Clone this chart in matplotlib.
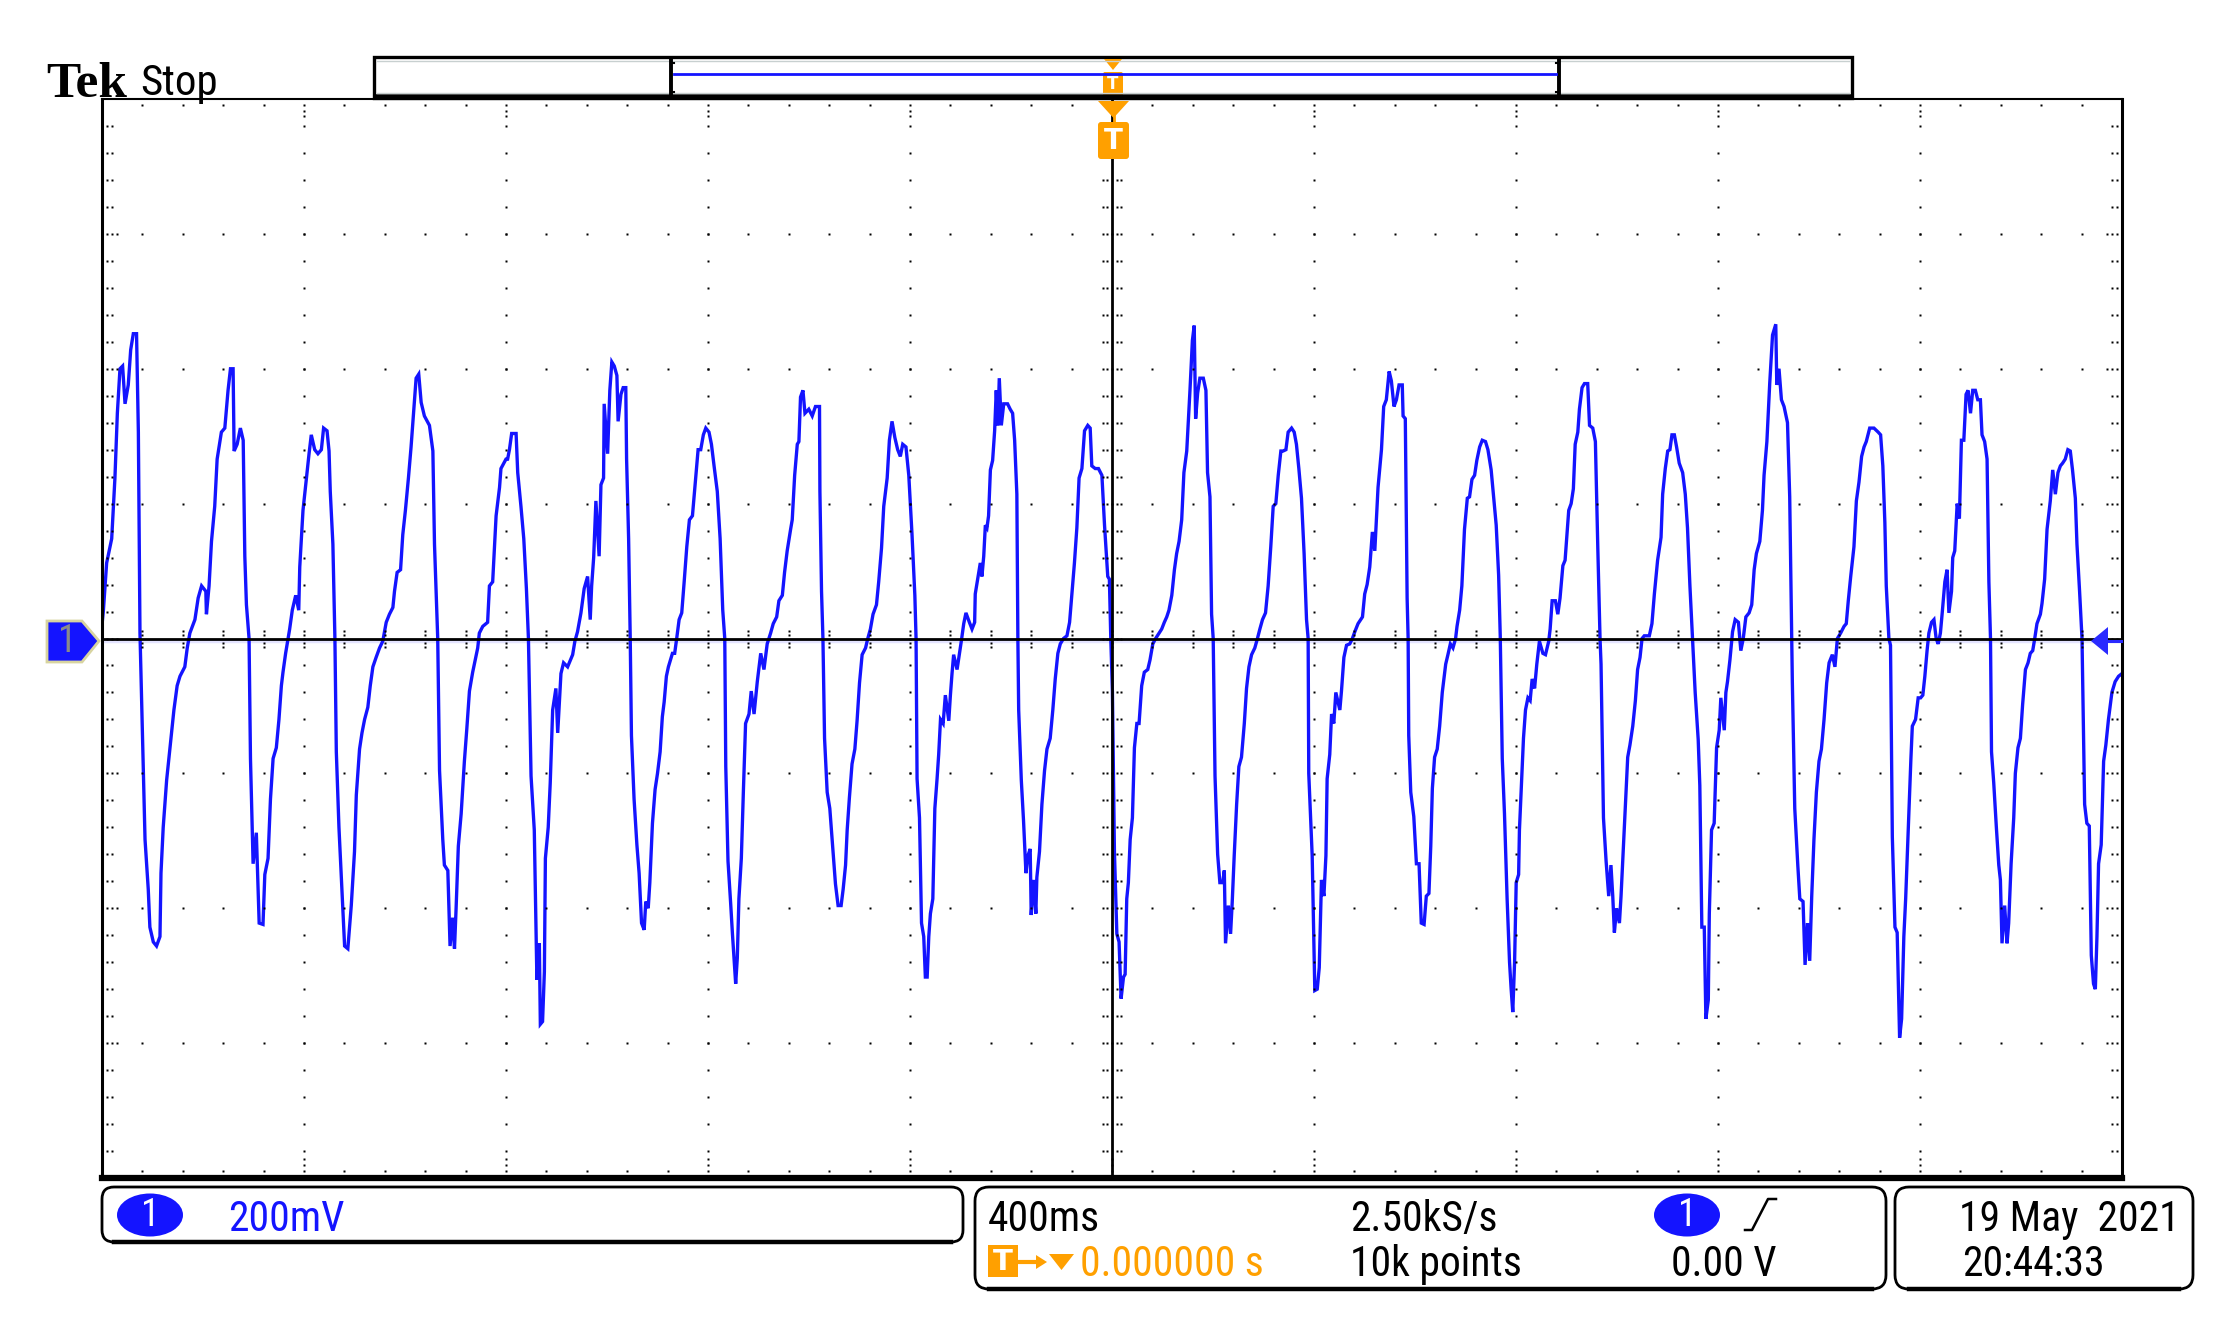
import matplotlib
matplotlib.use("Agg")
import matplotlib.pyplot as plt
import numpy as np
from matplotlib import font_manager
from matplotlib.patches import FancyBboxPatch, Rectangle, Polygon, Ellipse

# scope settings shown on the screen
SEC_PER_DIV = 0.4
VOLT_PER_DIV = 0.2
N_HDIV, N_VDIV = 10, 8

# CH1 trace read off the capture, in screen divisions
# (x counted from the left edge of the graticule, y from the centre line)
t_div_1 = [0.000, 0.007, 0.023, 0.048, 0.064, 0.076, 0.089, 0.102, 0.114, 0.130,
           0.142, 0.155, 0.171, 0.180, 0.188, 0.201, 0.213, 0.229, 0.237, 0.254,
           0.270, 0.287, 0.292, 0.303, 0.320, 0.336, 0.356, 0.372, 0.386, 0.410,
           0.422, 0.435, 0.460, 0.476, 0.493, 0.514, 0.517, 0.530, 0.542, 0.558,
           0.570, 0.591, 0.608, 0.624, 0.636, 0.649, 0.654, 0.669, 0.685, 0.699,
           0.707, 0.715, 0.728, 0.735, 0.748, 0.764, 0.778, 0.797, 0.806, 0.822,
           0.834, 0.847, 0.863, 0.876, 0.888, 0.896, 0.909, 0.921, 0.929, 0.942,
           0.959, 0.974, 0.979, 0.995, 1.012, 1.025, 1.036, 1.053, 1.069, 1.086,
           1.097, 1.114, 1.124, 1.130, 1.143, 1.153, 1.160, 1.173, 1.185, 1.201,
           1.217, 1.234, 1.250, 1.259, 1.275, 1.287, 1.300, 1.316, 1.328, 1.341,
           1.357, 1.374, 1.390, 1.407, 1.423, 1.440, 1.448, 1.461, 1.478, 1.489,
           1.502, 1.517, 1.530, 1.542, 1.555, 1.568, 1.580, 1.596, 1.621, 1.638,
           1.646, 1.662, 1.671, 1.687, 1.695, 1.712, 1.723, 1.736, 1.745, 1.753,
           1.764, 1.778, 1.794, 1.806, 1.819, 1.835, 1.860, 1.868, 1.885, 1.909,
           1.918, 1.934, 1.951, 1.968, 1.975, 2.000]
v_div_1 = [0.10, 0.21, 0.56, 0.74, 1.19, 1.67, 2.00, 2.02, 1.74, 1.88,
           2.14, 2.26, 2.26, 1.53, 0.04, -0.74, -1.49, -1.86, -2.14, -2.25,
           -2.28, -2.21, -1.74, -1.40, -1.05, -0.82, -0.53, -0.35, -0.28, -0.21,
           -0.07, 0.04, 0.14, 0.30, 0.39, 0.35, 0.18, 0.39, 0.72, 0.98,
           1.33, 1.53, 1.56, 1.84, 2.00, 2.00, 1.39, 1.44, 1.56, 1.47,
           0.61, 0.25, 0.00, -0.89, -1.67, -1.44, -2.11, -2.12, -1.75, -1.63,
           -1.19, -0.89, -0.81, -0.60, -0.35, -0.25, -0.11, 0.00, 0.07, 0.21,
           0.32, 0.21, 0.53, 0.95, 1.19, 1.37, 1.51, 1.40, 1.37, 1.40,
           1.56, 1.54, 1.39, 1.09, 0.70, 0.00, -0.84, -1.40, -1.77, -2.28,
           -2.30, -1.98, -1.58, -1.16, -0.82, -0.70, -0.60, -0.51, -0.35, -0.21,
           -0.14, -0.07, -0.02, 0.12, 0.18, 0.23, 0.35, 0.49, 0.51, 0.77,
           0.95, 1.19, 1.42, 1.67, 1.93, 1.96, 1.75, 1.65, 1.58, 1.39,
           0.70, 0.00, -0.98, -1.49, -1.68, -1.72, -2.28, -2.07, -2.30, -2.00,
           -1.54, -1.30, -0.91, -0.67, -0.39, -0.25, -0.07, 0.04, 0.09, 0.12,
           0.39, 0.42, 0.91, 1.12, 1.26, 1.33]

t_div_2 = [2.008, 2.017, 2.028, 2.050, 2.058, 2.074, 2.088, 2.101, 2.111, 2.124,
           2.140, 2.153, 2.165, 2.170, 2.181, 2.190, 2.195, 2.209, 2.219, 2.231,
           2.247, 2.256, 2.272, 2.285, 2.305, 2.330, 2.341, 2.354, 2.371, 2.387,
           2.404, 2.417, 2.424, 2.434, 2.445, 2.461, 2.470, 2.483, 2.486, 2.503,
           2.514, 2.524, 2.536, 2.549, 2.555, 2.569, 2.580, 2.593, 2.597, 2.607,
           2.615, 2.621, 2.634, 2.648, 2.659, 2.671, 2.684, 2.692, 2.704, 2.712,
           2.725, 2.738, 2.750, 2.763, 2.774, 2.783, 2.794, 2.804, 2.824, 2.835,
           2.845, 2.857, 2.870, 2.882, 2.895, 2.908, 2.923, 2.939, 2.951, 2.964,
           2.977, 2.989, 3.005, 3.017, 3.030, 3.046, 3.060, 3.073, 3.083, 3.088,
           3.099, 3.112, 3.121, 3.129, 3.137, 3.145, 3.153, 3.165, 3.175, 3.186,
           3.203, 3.214, 3.228, 3.244, 3.261, 3.277, 3.293, 3.310, 3.323, 3.340,
           3.351, 3.368, 3.379, 3.392, 3.409, 3.417, 3.429, 3.442, 3.450, 3.458,
           3.470, 3.480, 3.499, 3.516, 3.532, 3.552, 3.554, 3.562, 3.569, 3.577,
           3.590, 3.603, 3.620, 3.631, 3.644, 3.659, 3.669, 3.681, 3.689, 3.700,
           3.713, 3.727, 3.738, 3.750, 3.763, 3.780, 3.791, 3.804, 3.817, 3.834,
           3.845, 3.859, 3.870, 3.887, 3.898, 3.911, 3.925, 3.939, 3.952, 3.964,
           3.980, 3.994]
v_div_2 = [1.33, 1.40, 1.52, 1.52, 1.23, 0.98, 0.74, 0.37, 0.00, -1.02,
           -1.42, -2.53, -2.26, -2.86, -2.84, -2.47, -1.63, -1.40, -1.07, -0.53,
           -0.37, -0.70, -0.26, -0.18, -0.21, -0.12, -0.02, 0.05, 0.19, 0.37,
           0.46, 0.14, 0.39, 0.60, 1.02, 0.61, 1.14, 1.19, 1.74, 1.37,
           1.84, 2.05, 2.02, 1.95, 1.61, 1.81, 1.86, 1.86, 1.33, 0.74,
           0.00, -0.72, -1.19, -1.53, -1.74, -2.11, -2.16, -1.95, -2.00, -1.81,
           -1.37, -1.12, -1.00, -0.84, -0.58, -0.47, -0.28, -0.21, -0.11, -0.11,
           0.00, 0.14, 0.19, 0.42, 0.68, 0.88, 0.91, 1.19, 1.40, 1.40,
           1.51, 1.56, 1.53, 1.44, 1.28, 1.09, 0.74, 0.21, 0.00, -0.95,
           -1.65, -1.96, -2.19, -2.37, -2.56, -2.37, -1.93, -1.63, -1.14, -0.63,
           -0.56, -0.39, -0.56, -0.32, -0.11, -0.23, -0.04, 0.04, 0.11, 0.16,
           0.28, 0.32, 0.49, 0.65, 0.81, 0.88, 1.21, 1.44, 1.46, 1.79,
           1.84, 1.67, 1.70, 1.65, 1.72, 1.72, 1.09, 0.35, 0.00, -0.74,
           -1.14, -1.26, -1.60, -1.82, -1.98, -1.98, -1.86, -1.68, -1.42, -1.18,
           -0.93, -0.82, -0.61, -0.33, -0.12, -0.07, 0.00, 0.07, 0.18, 0.25,
           0.42, 0.67, 0.98, 1.19, 1.47, 1.61, 1.49, 1.40, 1.35, 1.44,
           1.42, 1.21]

t_div_3 = [4.010, 4.024, 4.030, 4.035, 4.047, 4.057, 4.068, 4.076, 4.085, 4.093,
           4.101, 4.113, 4.123, 4.134, 4.142, 4.151, 4.164, 4.175, 4.192, 4.200,
           4.208, 4.216, 4.233, 4.244, 4.254, 4.266, 4.277, 4.294, 4.307, 4.320,
           4.323, 4.337, 4.348, 4.356, 4.365, 4.373, 4.381, 4.389, 4.398, 4.409,
           4.419, 4.427, 4.435, 4.442, 4.452, 4.464, 4.483, 4.496, 4.508, 4.518,
           4.529, 4.534, 4.538, 4.551, 4.562, 4.574, 4.584, 4.595, 4.600, 4.612,
           4.623, 4.628, 4.641, 4.653, 4.666, 4.678, 4.694, 4.707, 4.719, 4.732,
           4.744, 4.760, 4.777, 4.790, 4.801, 4.814, 4.826, 4.837, 4.851, 4.864,
           4.880, 4.892, 4.900, 4.917, 4.933, 4.950, 4.963, 4.979, 4.987, 4.994,
           5.002, 5.012, 5.024, 5.035, 5.045, 5.057, 5.065, 5.073, 5.081, 5.090,
           5.101, 5.111, 5.123, 5.134, 5.147, 5.160, 5.177, 5.188, 5.202, 5.216,
           5.233, 5.246, 5.259, 5.271, 5.282, 5.296, 5.309, 5.320, 5.332, 5.345,
           5.356, 5.370, 5.386, 5.398, 5.407, 5.414, 5.424, 5.435, 5.452, 5.465,
           5.473, 5.485, 5.493, 5.501, 5.510, 5.523, 5.534, 5.548, 5.556, 5.562,
           5.576, 5.587, 5.595, 5.605, 5.617, 5.628, 5.641, 5.655, 5.666, 5.678,
           5.691, 5.707, 5.720, 5.732, 5.745, 5.760, 5.773, 5.786, 5.798, 5.811,
           5.823, 5.836, 5.847, 5.861, 5.872, 5.889, 5.902, 5.913, 5.925, 5.938,
           5.951, 5.963, 5.971, 5.974, 5.991]
v_div_3 = [0.77, 0.32, 0.00, -1.04, -1.33, -2.11, -2.21, -2.51, -2.51, -2.21,
           -2.04, -1.93, -1.26, -1.04, -0.86, -0.60, -0.63, -0.42, -0.61, -0.42,
           -0.26, -0.12, -0.23, -0.12, -0.02, 0.11, 0.19, 0.12, 0.07, 0.12,
           0.33, 0.46, 0.56, 0.46, 0.61, 0.84, 0.82, 0.91, 1.25, 1.32,
           1.54, 1.84, 1.58, 1.93, 1.58, 1.74, 1.74, 1.70, 1.67, 1.47,
           1.07, 0.00, -0.53, -1.05, -1.35, -1.74, -1.61, -1.56, -2.05, -1.79,
           -2.04, -1.77, -1.58, -1.23, -0.98, -0.82, -0.74, -0.53, -0.30, -0.11,
           -0.04, 0.00, 0.02, 0.12, 0.32, 0.56, 0.82, 1.19, 1.26, 1.54,
           1.58, 1.56, 1.28, 1.26, 1.26, 1.21, 0.84, 0.46, 0.44, 0.00,
           -0.39, -1.58, -2.19, -2.25, -2.67, -2.51, -2.49, -1.93, -1.81, -1.49,
           -1.33, -0.81, -0.63, -0.63, -0.35, -0.25, -0.23, -0.16, -0.04, 0.00,
           0.04, 0.07, 0.12, 0.16, 0.21, 0.32, 0.51, 0.63, 0.72, 0.88,
           1.23, 1.39, 1.84, 2.21, 2.32, 1.63, 1.82, 1.93, 1.93, 1.84,
           1.23, 1.05, 0.18, 0.00, -1.02, -1.60, -1.81, -1.81, -1.72, -2.26,
           -1.98, -2.19, -1.96, -1.61, -1.23, -0.95, -0.88, -0.63, -0.37, -0.21,
           -0.12, -0.07, 0.00, 0.07, 0.14, 0.19, 0.39, 0.68, 0.98, 1.00,
           1.21, 1.39, 1.39, 1.40, 1.53, 1.56, 1.53, 1.44, 1.26, 1.04,
           0.63, 0.14, 0.00, -1.00, -1.61]

t_div_4 = [6.004, 6.016, 6.026, 6.037, 6.049, 6.059, 6.065, 6.078, 6.087, 6.098,
           6.108, 6.128, 6.136, 6.148, 6.161, 6.177, 6.190, 6.202, 6.218, 6.240,
           6.251, 6.263, 6.276, 6.289, 6.301, 6.317, 6.334, 6.345, 6.358, 6.372,
           6.383, 6.396, 6.408, 6.421, 6.437, 6.441, 6.452, 6.461, 6.466, 6.469,
           6.479, 6.494, 6.507, 6.520, 6.531, 6.545, 6.556, 6.569, 6.578, 6.586,
           6.597, 6.610, 6.622, 6.635, 6.652, 6.663, 6.675, 6.688, 6.701, 6.708,
           6.721, 6.732, 6.745, 6.759, 6.770, 6.782, 6.795, 6.806, 6.820, 6.833,
           6.849, 6.861, 6.877, 6.889, 6.902, 6.914, 6.922, 6.932, 6.943, 6.956,
           6.968, 6.976, 6.984, 6.993, 7.001, 7.013, 7.017, 7.026, 7.037, 7.047,
           7.059, 7.070, 7.080, 7.092, 7.103, 7.116, 7.133, 7.146, 7.162, 7.169,
           7.179, 7.195, 7.207, 7.218, 7.232, 7.243, 7.251, 7.261, 7.273, 7.284,
           7.293, 7.306, 7.314, 7.327, 7.339, 7.355, 7.364, 7.380, 7.393, 7.405,
           7.416, 7.421, 7.433, 7.446, 7.459, 7.470, 7.479, 7.487, 7.498, 7.512,
           7.520, 7.532, 7.545, 7.553, 7.564, 7.578, 7.591, 7.602, 7.614, 7.624,
           7.635, 7.660, 7.673, 7.685, 7.701, 7.718, 7.726, 7.739, 7.751, 7.762,
           7.772, 7.784, 7.795, 7.808, 7.825, 7.838, 7.849, 7.861, 7.874, 7.887,
           7.902, 7.910, 7.920, 7.932, 7.940, 7.952, 7.957, 7.968, 7.981]
v_div_4 = [-2.61, -2.60, -2.44, -1.79, -1.91, -1.61, -1.04, -0.86, -0.56, -0.63,
           -0.40, -0.53, -0.39, -0.14, -0.05, -0.04, 0.00, 0.05, 0.11, 0.16,
           0.33, 0.40, 0.53, 0.79, 0.65, 1.12, 1.40, 1.72, 1.77, 1.98,
           1.91, 1.72, 1.77, 1.88, 1.88, 1.65, 1.63, 0.30, 0.00, -0.72,
           -1.14, -1.32, -1.67, -1.67, -2.11, -2.12, -1.91, -1.89, -1.54, -1.11,
           -0.88, -0.82, -0.65, -0.40, -0.19, -0.12, -0.04, -0.07, 0.00, 0.09,
           0.21, 0.39, 0.81, 1.04, 1.05, 1.18, 1.21, 1.32, 1.42, 1.47,
           1.46, 1.40, 1.25, 1.05, 0.84, 0.47, 0.02, -0.89, -1.30, -1.93,
           -2.40, -2.60, -2.77, -2.40, -1.81, -1.75, -1.42, -1.11, -0.74, -0.53,
           -0.44, -0.46, -0.30, -0.37, -0.19, -0.02, -0.11, -0.12, -0.02, 0.07,
           0.28, 0.28, 0.18, 0.30, 0.54, 0.58, 0.74, 0.95, 1.00, 1.11,
           1.44, 1.53, 1.70, 1.86, 1.89, 1.89, 1.58, 1.56, 1.46, 0.67,
           0.00, -0.19, -1.33, -1.65, -1.91, -1.68, -1.91, -2.18, -2.00, -2.11,
           -1.91, -1.54, -1.14, -0.88, -0.79, -0.65, -0.46, -0.23, -0.14, 0.00,
           0.02, 0.02, 0.11, 0.33, 0.58, 0.75, 1.07, 1.26, 1.39, 1.40,
           1.51, 1.51, 1.42, 1.30, 1.23, 1.07, 0.82, 0.39, 0.00, -0.40,
           -0.75, -1.09, -2.14, -2.14, -2.82, -2.68, -2.04, -1.42, -1.37]

t_div_5 = [7.993, 8.006, 8.014, 8.031, 8.039, 8.047, 8.059, 8.072, 8.085, 8.101,
           8.113, 8.125, 8.138, 8.154, 8.167, 8.179, 8.190, 8.207, 8.220, 8.228,
           8.242, 8.256, 8.270, 8.286, 8.291, 8.302, 8.314, 8.327, 8.344, 8.355,
           8.365, 8.368, 8.380, 8.395, 8.405, 8.421, 8.431, 8.443, 8.454, 8.464,
           8.475, 8.487, 8.500, 8.512, 8.525, 8.538, 8.550, 8.566, 8.579, 8.591,
           8.607, 8.624, 8.635, 8.645, 8.657, 8.673, 8.685, 8.698, 8.711, 8.723,
           8.734, 8.751, 8.772, 8.793, 8.805, 8.816, 8.826, 8.833, 8.846, 8.854,
           8.863, 8.876, 8.887, 8.899, 8.909, 8.920, 8.929, 8.937, 8.945, 8.955,
           8.962, 8.978, 8.991, 9.003, 9.014, 9.024, 9.035, 9.044, 9.057, 9.069,
           9.080, 9.090, 9.101, 9.110, 9.123, 9.134, 9.143, 9.156, 9.162, 9.172,
           9.184, 9.195, 9.205, 9.217, 9.228, 9.238, 9.250, 9.261, 9.274, 9.286,
           9.299, 9.307, 9.320, 9.332, 9.341, 9.349, 9.354, 9.365, 9.378, 9.390,
           9.398, 9.406, 9.419, 9.431, 9.439, 9.451, 9.464, 9.472, 9.485, 9.497,
           9.508, 9.522, 9.535, 9.546, 9.558, 9.568, 9.579, 9.596, 9.604, 9.617,
           9.629, 9.645, 9.657, 9.670, 9.683, 9.695, 9.706, 9.719, 9.732, 9.744,
           9.755, 9.769, 9.777, 9.790, 9.802, 9.815, 9.826, 9.838, 9.848, 9.859,
           9.868, 9.876, 9.884, 9.897, 9.909, 9.920, 9.933, 9.950, 9.966, 9.983, 10.000]
v_div_5 = [-0.81, -0.68, -0.44, -0.68, -0.40, -0.32, -0.16, 0.05, 0.14, 0.12,
           -0.09, 0.00, 0.16, 0.19, 0.25, 0.51, 0.63, 0.72, 0.95, 1.21,
           1.46, 1.89, 2.25, 2.33, 1.88, 2.00, 1.77, 1.72, 1.60, 1.05,
           0.00, -0.32, -1.26, -1.68, -1.93, -1.95, -2.42, -2.11, -2.39, -1.91,
           -1.49, -1.14, -0.91, -0.82, -0.60, -0.33, -0.18, -0.12, -0.21, 0.00,
           0.04, 0.09, 0.11, 0.28, 0.46, 0.68, 1.02, 1.16, 1.35, 1.42,
           1.46, 1.56, 1.56, 1.53, 1.51, 1.28, 0.86, 0.39, 0.00, -0.05,
           -1.47, -2.14, -2.18, -2.96, -2.82, -2.21, -1.93, -1.61, -1.28, -0.89,
           -0.65, -0.60, -0.44, -0.44, -0.42, -0.28, -0.09, 0.04, 0.12, 0.14,
           0.00, -0.04, 0.04, 0.19, 0.42, 0.51, 0.19, 0.35, 0.60, 0.65,
           1.00, 0.89, 1.47, 1.47, 1.81, 1.84, 1.67, 1.84, 1.84, 1.77,
           1.77, 1.51, 1.46, 1.33, 0.42, 0.00, -0.84, -1.07, -1.40, -1.68,
           -1.79, -2.26, -1.98, -2.26, -2.11, -1.67, -1.33, -1.00, -0.81, -0.74,
           -0.49, -0.23, -0.18, -0.11, -0.09, 0.00, 0.11, 0.18, 0.26, 0.44,
           0.81, 1.02, 1.25, 1.07, 1.23, 1.28, 1.30, 1.33, 1.40, 1.39,
           1.25, 1.04, 0.70, 0.35, 0.00, -1.23, -1.37, -1.39, -2.35, -2.56,
           -2.60, -2.21, -1.67, -1.53, -0.91, -0.79, -0.60, -0.40, -0.32, -0.28, -0.26]

# readout texts
ch_label = "1"
ch_scale = "200mV"
timebase = "400ms"
sample_rate = "2.50kS/s"
record_len = "10k points"
trig_pos = "0.000000 s"
trig_level = "0.00 V"
date_str = "19 May  2021"
time_str = "20:44:33"

t_parts = [t_div_1, t_div_2, t_div_3, t_div_4, t_div_5]
v_parts = [v_div_1, v_div_2, v_div_3, v_div_4, v_div_5]
for a, b in zip(t_parts, v_parts):
    assert len(a) == len(b)
t_div = np.concatenate(t_parts)
v_div = np.concatenate(v_parts)
time_s = (t_div - N_HDIV / 2) * SEC_PER_DIV
volts = v_div * VOLT_PER_DIV

# fonts: the scope uses a narrow sans
names = {f.name for f in font_manager.fontManager.ttflist}
narrow = next((n for n in ["Liberation Sans Narrow", "DejaVu Sans Condensed", "Roboto Condensed"]
               if n in names), None)
NF = dict(family=narrow) if narrow else dict(family="DejaVu Sans", stretch="condensed")
SERIF = "Liberation Serif" if "Liberation Serif" in names else "DejaVu Serif"

BLUE = "#1414ff"
ORANGE = "#ffa000"
W, H = 2228, 1329
L, R, T, B = 102, 2122, 99, 1178

fig = plt.figure(figsize=(W / 100, H / 100), dpi=100)
fig.patch.set_facecolor("white")

ax = fig.add_axes([L / W, 1 - B / H, (R - L) / W, (B - T) / H])
xhalf = N_HDIV / 2 * SEC_PER_DIV
yhalf = N_VDIV / 2 * VOLT_PER_DIV
ax.set_xlim(-xhalf, xhalf)
ax.set_ylim(-yhalf, yhalf)
ax.set_xticks([])
ax.set_yticks([])
for side, lw in [("left", 2.2), ("right", 2.2), ("top", 1.5), ("bottom", 4.5)]:
    ax.spines[side].set_linewidth(lw)
    ax.spines[side].set_color("black")

dx = 2 * xhalf / (R - L)   # seconds per pixel
dy = 2 * yhalf / (B - T)   # volts per pixel

# graticule
xmaj = -xhalf + SEC_PER_DIV * np.arange(1, N_HDIV)
ymaj = -yhalf + VOLT_PER_DIV * np.arange(1, N_VDIV)
xmin = -xhalf + SEC_PER_DIV / 5 * np.arange(1, N_HDIV * 5)
ymin = -yhalf + VOLT_PER_DIV / 5 * np.arange(1, N_VDIV * 5)
dot = dict(ls="none", marker="s", ms=1.8, mec="none", mfc="black", zorder=3, clip_on=False)

for x in xmaj:
    if abs(x) > 1e-9:
        ax.plot(np.full_like(ymin, x), ymin, **dot)
for y in ymaj:
    if abs(y) > 1e-9:
        ax.plot(xmin, np.full_like(xmin, y), **dot)

# centre cross with its minor ticks
ax.axhline(-2.5 * dy, color="#e4e4ff", lw=2.5, zorder=1)
ax.axhline(0, color="black", lw=2.0, zorder=4)
ax.axvline(0, color="black", lw=2.0, zorder=4)
for off in (-8, -4, 4, 8):
    ax.plot(xmin, np.full_like(xmin, off * dy), **dot)
for off in (-9, -5, 5, 9):
    ax.plot(np.full_like(ymin, off * dx), ymin, **dot)

# ticks along the frame
ax.plot(xmin, np.full_like(xmin, yhalf - 6 * dy), **dot)
ax.plot(xmin, np.full_like(xmin, -yhalf + 7 * dy), **dot)
for off in (12, 17):
    ax.plot(xmaj, np.full_like(xmaj, yhalf - off * dy), **dot)
for off in (13, 19):
    ax.plot(xmaj, np.full_like(xmaj, -yhalf + off * dy), **dot)
for off in (5, 10):
    ax.plot(np.full_like(ymin, -xhalf + off * dx), ymin, **dot)
    ax.plot(np.full_like(ymin, xhalf - off * dx), ymin, **dot)
ax.plot(np.full_like(ymaj, -xhalf + 15 * dx), ymaj, **dot)
ax.plot(np.full_like(ymaj, xhalf - 15 * dx), ymaj, **dot)

# the trace
ax.plot(time_s, volts, color=BLUE, lw=2.4, zorder=2, solid_joinstyle="miter")

# overlay in screen pixels for the scope decorations
ov = fig.add_axes([0, 0, 1, 1], zorder=5)
ov.set_xlim(0, W)
ov.set_ylim(H, 0)
ov.axis("off")

ov.text(46, 97, "Tek", family=SERIF, weight="bold", fontsize=37, va="baseline")
ov.text(140, 95, "Stop", fontsize=31, va="baseline", **NF)
ov.plot([201, 201], [78, 99], color="black", lw=1.2)

# record view bar
ov.add_patch(Rectangle((374, 57), 1478, 41, fill=False, ec="black", lw=2.4))
ov.plot([374, 1852], [97, 97], color="black", lw=4.0, solid_capstyle="butt")
ov.plot([377, 1849], [61, 61], color="#c8d0d0", lw=1.0)
ov.plot([377, 1849], [93, 93], color="#c8d0d0", lw=1.0)
for bx, sgn in [(671, 1), (1559, -1)]:
    ov.plot([bx, bx], [59, 96], color="black", lw=2.8)
    ov.plot([bx, bx + 3 * sgn], [63, 63], color="black", lw=1.5)
    ov.plot([bx, bx + 3 * sgn], [92, 92], color="black", lw=1.5)
ov.plot([674, 1556], [74, 74], color=BLUE, lw=2.0)
ov.add_patch(Polygon([(1104, 59), (1122, 59), (1113, 70)], fc=ORANGE, ec="none"))
ov.add_patch(FancyBboxPatch((1105, 74), 16, 20, boxstyle="round,pad=2", fc=ORANGE, ec="none"))
ov.text(1113, 84, "T", color="white", weight="bold", fontsize=12, ha="center", va="center",
        family="DejaVu Sans")

# trigger position marker
ov.add_patch(Polygon([(1098, 101), (1129, 101), (1113.5, 118)], fc=ORANGE, ec="none"))
ov.plot([1113.5, 1113.5], [115, 123], color=ORANGE, lw=2)
ov.add_patch(FancyBboxPatch((1101, 125), 25, 31, boxstyle="round,pad=3", fc=ORANGE, ec="none"))
ov.text(1113.5, 141, "T", color="white", weight="bold", fontsize=20, ha="center", va="center",
        family="DejaVu Sans")

# channel ground marker and trigger level marker
ov.add_patch(Polygon([(47, 621), (82, 621), (99, 641), (82, 662), (47, 662)],
                     fc=BLUE, ec="#d8d4a0", lw=2))
ov.text(67, 642, ch_label, color="#8a8a8a", fontsize=27, ha="center", va="center", **NF)
ov.add_patch(Polygon([(2091, 641), (2108, 627), (2108, 655)], fc="#2a2aff", ec="none"))
ov.plot([2100, 2121], [641, 641], color="#2a2aff", lw=2.2)


def readout_box(x0, y0, x1, y1, r):
    ov.add_patch(FancyBboxPatch((x0 + r, y0 + r), x1 - x0 - 2 * r, y1 - y0 - 2 * r,
                                boxstyle=f"round,pad={r}", fc="white", ec="black", lw=2.0))
    ov.plot([x0 + r, x1 - r], [y1, y1], color="black", lw=3.2)


readout_box(102, 1187, 963, 1242, 12)
readout_box(975, 1187, 1886, 1289, 14)
readout_box(1895, 1187, 2193, 1289, 14)

row1, row2 = 1231, 1276
FS = 30

ov.add_patch(Ellipse((150, 1215), 66, 43, fc=BLUE, ec="none"))
ov.text(150, 1216, ch_label, color="white", fontsize=27, ha="center", va="center", **NF)
ov.text(228, row1, ch_scale, color=BLUE, fontsize=FS, va="baseline", **NF)

ov.text(988, row1, timebase, color="black", fontsize=FS, va="baseline", **NF)
ov.text(1350, row1, sample_rate, color="black", fontsize=FS, va="baseline", **NF)
ov.add_patch(Ellipse((1687, 1215), 66, 43, fc=BLUE, ec="none"))
ov.text(1687, 1216, ch_label, color="white", fontsize=27, ha="center", va="center", **NF)
ov.plot([1745, 1752, 1768, 1776], [1230, 1230, 1199, 1199], color="black", lw=1.8)

ov.add_patch(Rectangle((988, 1245), 30, 32, fc=ORANGE, ec="none"))
ov.text(1003, 1262, "T", color="white", weight="bold", fontsize=21, ha="center", va="center",
        family="DejaVu Sans")
ov.plot([1020, 1038], [1262, 1262], color=ORANGE, lw=3.0)
ov.add_patch(Polygon([(1036, 1255), (1047, 1262), (1036, 1269)], fc=ORANGE, ec="none"))
ov.add_patch(Polygon([(1049, 1254), (1074, 1254), (1061.5, 1270)], fc=ORANGE, ec="none"))
ov.text(1080, row2, trig_pos, color=ORANGE, fontsize=FS, va="baseline", **NF)
ov.text(1350, row2, record_len, color="black", fontsize=FS, va="baseline", **NF)
ov.text(1671, row2, trig_level, color="black", fontsize=FS, va="baseline", **NF)

ov.text(2180, row1, date_str, color="black", fontsize=FS, va="baseline", ha="right", **NF)
ov.text(1962, row2, time_str, color="black", fontsize=FS, va="baseline", **NF)

fig.savefig("out.png", dpi=100, facecolor="white")
